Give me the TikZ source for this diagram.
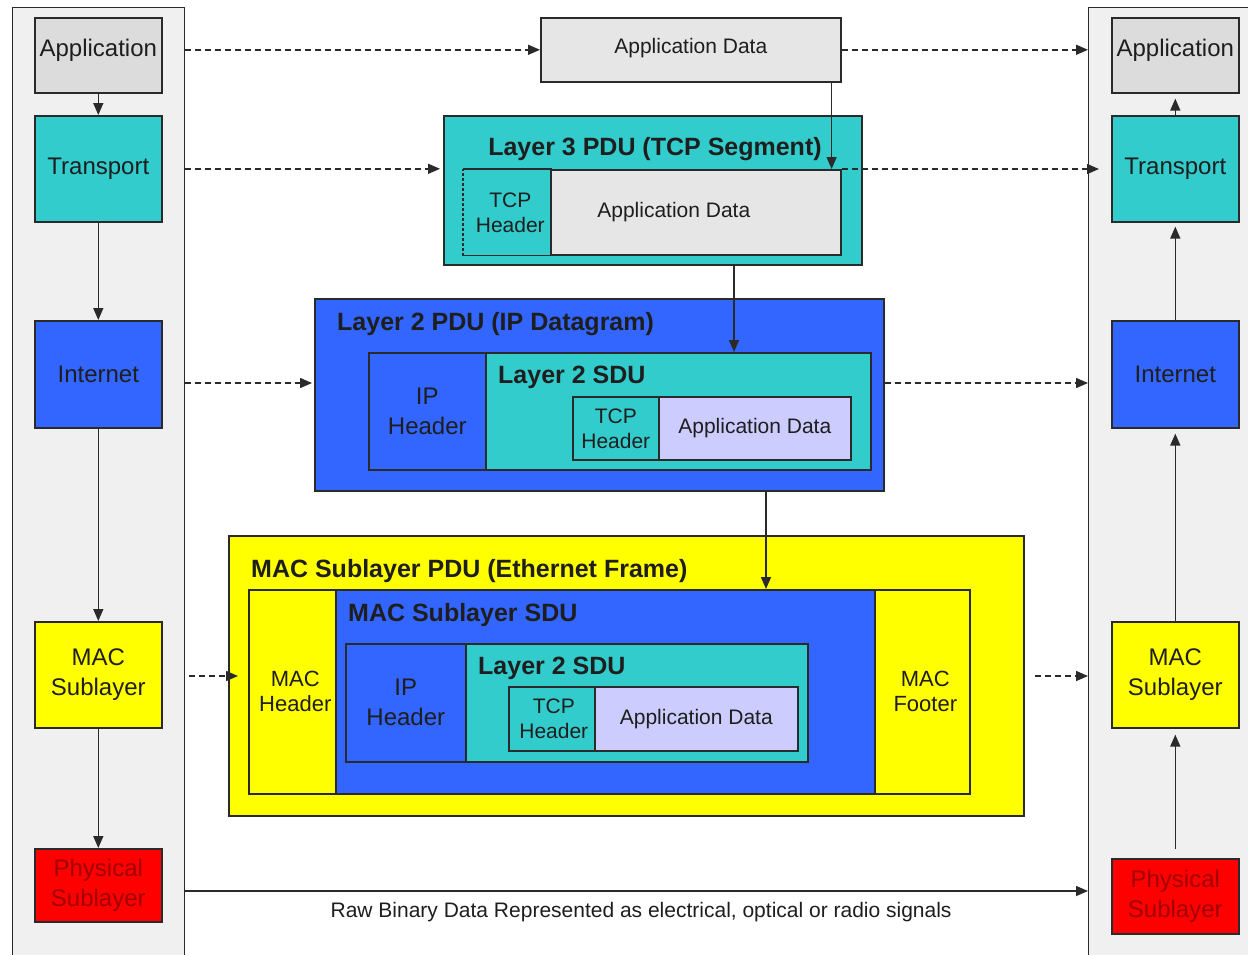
\documentclass[tikz,border=0pt]{standalone}
\usepackage{fontspec}
\setmainfont{Liberation Sans}
\usetikzlibrary{arrows.meta,calc}
\definecolor{cGA}{HTML}{DCDCDC}
\definecolor{cGD}{HTML}{E6E6E6}
\definecolor{cTeal}{HTML}{33CCCC}
\definecolor{cBlue}{HTML}{3366FF}
\definecolor{cYel}{HTML}{FFFF00}
\definecolor{cRed}{HTML}{FF0000}
\definecolor{cLav}{HTML}{CCCCFF}
\definecolor{cPan}{HTML}{F0F0F0}
\definecolor{cTxt}{HTML}{1E1E1E}
\definecolor{cLine}{HTML}{2A2A2A}
\definecolor{cDRed}{HTML}{A00000}
\newcommand\fA{\fontsize{24}{30}\selectfont}
\newcommand\fB{\fontsize{22}{25}\selectfont}
\newcommand\fC{\fontsize{21}{25}\selectfont}
\newcommand\fT{\fontsize{25}{28}\selectfont\bfseries}
\newcommand\upby[2]{\raisebox{0pt}[\height][\dimexpr\depth+#1\relax]{#2}}
\newcommand\bx[7]{\node[box,#6,anchor=north west,minimum width={(#4)-(#2)},minimum height={(#5)-(#3)}] (#1) at (#2,#3) {#7};}
\tikzset{
  box/.style={draw=cLine, line width=1.6pt, inner sep=0pt, align=center, text=cTxt},
  ttl/.style={inner sep=0pt, font=\fT, text=cTxt},
  arr/.style={draw=cLine, line width=1.5pt, -{Triangle[length=12pt,width=10pt]}},
  darr/.style={arr, dash pattern=on 6pt off 4pt},
}
\begin{document}
\begin{tikzpicture}[x=1pt,y=-1pt]
\useasboundingbox (0,0) rectangle (1248,954);
\clip (0,0) rectangle (1248,954);
\fill[white] (0,0) rectangle (1248,954);
% side panels
\bx{lp}{12}{7}{184}{962}{fill=cPan,line width=1.2pt}{}
\bx{rp}{1088}{7}{1262}{962}{fill=cPan,line width=1.2pt}{}
% left stack
\bx{la}{34}{17}{161}{92}{fill=cGA,font=\fA}{\upby{10pt}{Application}}
\bx{lt}{34}{115}{161}{221}{fill=cTeal,font=\fA}{Transport}
\bx{li}{34}{320}{161}{427}{fill=cBlue,font=\fA}{Internet}
\bx{lm}{34}{621}{161}{727}{fill=cYel,font=\fA}{MAC\\Sublayer}
\bx{lph}{34}{848}{161}{921}{fill=cRed,font=\fA,text=cDRed}{Physical\\Sublayer}
% right stack
\bx{ra}{1111}{17}{1238}{92}{fill=cGA,font=\fA}{\upby{10pt}{Application}}
\bx{rt}{1111}{115}{1238}{221}{fill=cTeal,font=\fA}{Transport}
\bx{ri}{1111}{320}{1238}{427}{fill=cBlue,font=\fA}{Internet}
\bx{rm}{1111}{621}{1238}{727}{fill=cYel,font=\fA}{MAC\\Sublayer}
\bx{rph}{1111}{858}{1238}{933}{fill=cRed,font=\fA,text=cDRed}{Physical\\Sublayer}
% application data
\bx{ad}{540}{17}{840}{81}{fill=cGD,font=\fC}{\upby{4pt}{Application Data}}
% layer 3
\bx{l3}{443}{115}{861}{264}{fill=cTeal}{}
\node[ttl,anchor=base] (l3t) at (655,155) {Layer 3 PDU (TCP Segment)};
\bx{l3h}{463}{169}{550}{254}{fill=cTeal,draw=none,font=\fC}{\hspace*{6pt}TCP\\\hspace*{6pt}Header}
\draw[draw=cLine,line width=1.6pt] (l3h.north west) -- (l3h.north east) -- (l3h.south east) -- (l3h.south west);
\draw[draw=cLine,line width=1.6pt,dash pattern=on 3pt off 2pt] (l3h.south west) -- (l3h.north west);
\bx{l3a}{550}{169}{840}{254}{fill=cGD}{}
\node[font=\fC,text=cTxt,inner sep=0pt] (l3at) at ($(l3a.center)+(-22,0)$) {Application Data};
% layer 2
\bx{l2}{314}{298}{883}{490}{fill=cBlue}{}
\node[ttl,anchor=base west] (l2t) at (337,330) {Layer 2 PDU (IP Datagram)};
\bx{l2ip}{368}{352}{485}{469}{fill=cBlue,font=\fA}{IP\\Header}
\bx{l2s}{485}{352}{870}{469}{fill=cTeal}{}
\node[ttl,anchor=base west] (l2st) at (498,383) {Layer 2 SDU};
\bx{l2h}{572}{396}{658}{459}{fill=cTeal,font=\fC}{TCP\\Header}
\bx{l2a}{658}{396}{850}{459}{fill=cLav,font=\fC}{Application Data}
% MAC
\bx{mac}{228}{535}{1023}{815}{fill=cYel}{}
\node[ttl,anchor=base west] (mact) at (251,577) {MAC Sublayer PDU (Ethernet Frame)};
\bx{mh}{248}{589}{335}{793}{fill=cYel,font=\fB}{\hspace*{6pt}MAC\\\hspace*{6pt}Header}
\bx{ms}{335}{589}{874}{793}{fill=cBlue}{}
\node[ttl,anchor=base west] (mst) at (348,621) {MAC Sublayer SDU};
\bx{mf}{874}{589}{969}{793}{fill=cYel,font=\fB}{\hspace*{6pt}MAC\\\hspace*{6pt}Footer}
\bx{mip}{345}{643}{465}{761}{fill=cBlue,font=\fA}{IP\\Header}
\bx{m2s}{465}{643}{807}{761}{fill=cTeal}{}
\node[ttl,anchor=base west] (m2st) at (478,674) {Layer 2 SDU};
\bx{m2h}{508}{686}{594}{750}{fill=cTeal,font=\fC}{\hspace*{4pt}TCP\\\hspace*{4pt}Header}
\bx{m2a}{594}{686}{797}{750}{fill=cLav,font=\fC}{Application Data}
% left stack arrows
\draw[arr] (la) -- (lt);
\draw[arr] (lt) -- (li);
\draw[arr] (li) -- (lm);
\draw[arr] (lm) -- (lph);
% right stack arrows
\draw[arr,shorten >=5pt] (rt) -- (ra);
\draw[arr,shorten >=4pt] (ri) -- (rt);
\draw[arr,shorten >=5pt] (rm) -- (ri);
\draw[arr,shorten >=6pt,shorten <=9pt] (rph) -- (rm);
% level coordinates
\coordinate (yint) at (0,383);
\coordinate (ymac) at (0,676);
\coordinate (ybin) at (0,891);
\coordinate (xa) at (734,0);
\coordinate (xb) at (766,0);
% peer dashed arrows
\draw[darr] (ad.west -| lp.east) -- (ad.west);
\draw[darr] (ad.east) -- (ad.east -| rp.west);
\draw[darr,shorten >=3pt] (lt.east -| lp.east) -- (lt.east -| l3.west);
\draw[darr,shorten >=12pt] (l3a.north east) -- (l3a.north east -| rt.west);
\draw[darr,shorten >=2pt] (lp.east |- yint) -- (l2.west |- yint);
\draw[darr] (l2.east |- yint) -- (rp.west |- yint);
\draw[darr,shorten <=4pt,shorten >=10pt] (lp.east |- ymac) -- (mh.west |- ymac);
\draw[darr,shorten <=10pt] (mac.east |- ymac) -- (rp.west |- ymac);
% encapsulation arrows
\draw[arr] ([xshift=-10pt]ad.south east) -- ([xshift=-10pt]l3a.north east);
\draw[arr] (l3.south -| xa) -- (l2s.north -| xa);
\draw[arr] (l2.south -| xb) -- (ms.north -| xb);
% physical
\draw[arr] (lp.east |- ybin) -- node[pos=0.505,below=11pt,inner sep=0pt,font=\fontsize{21}{24}\selectfont,text=cTxt] (binl) {Raw Binary Data Represented as electrical, optical or radio signals} (rp.west |- ybin);
\end{tikzpicture}
\end{document}
